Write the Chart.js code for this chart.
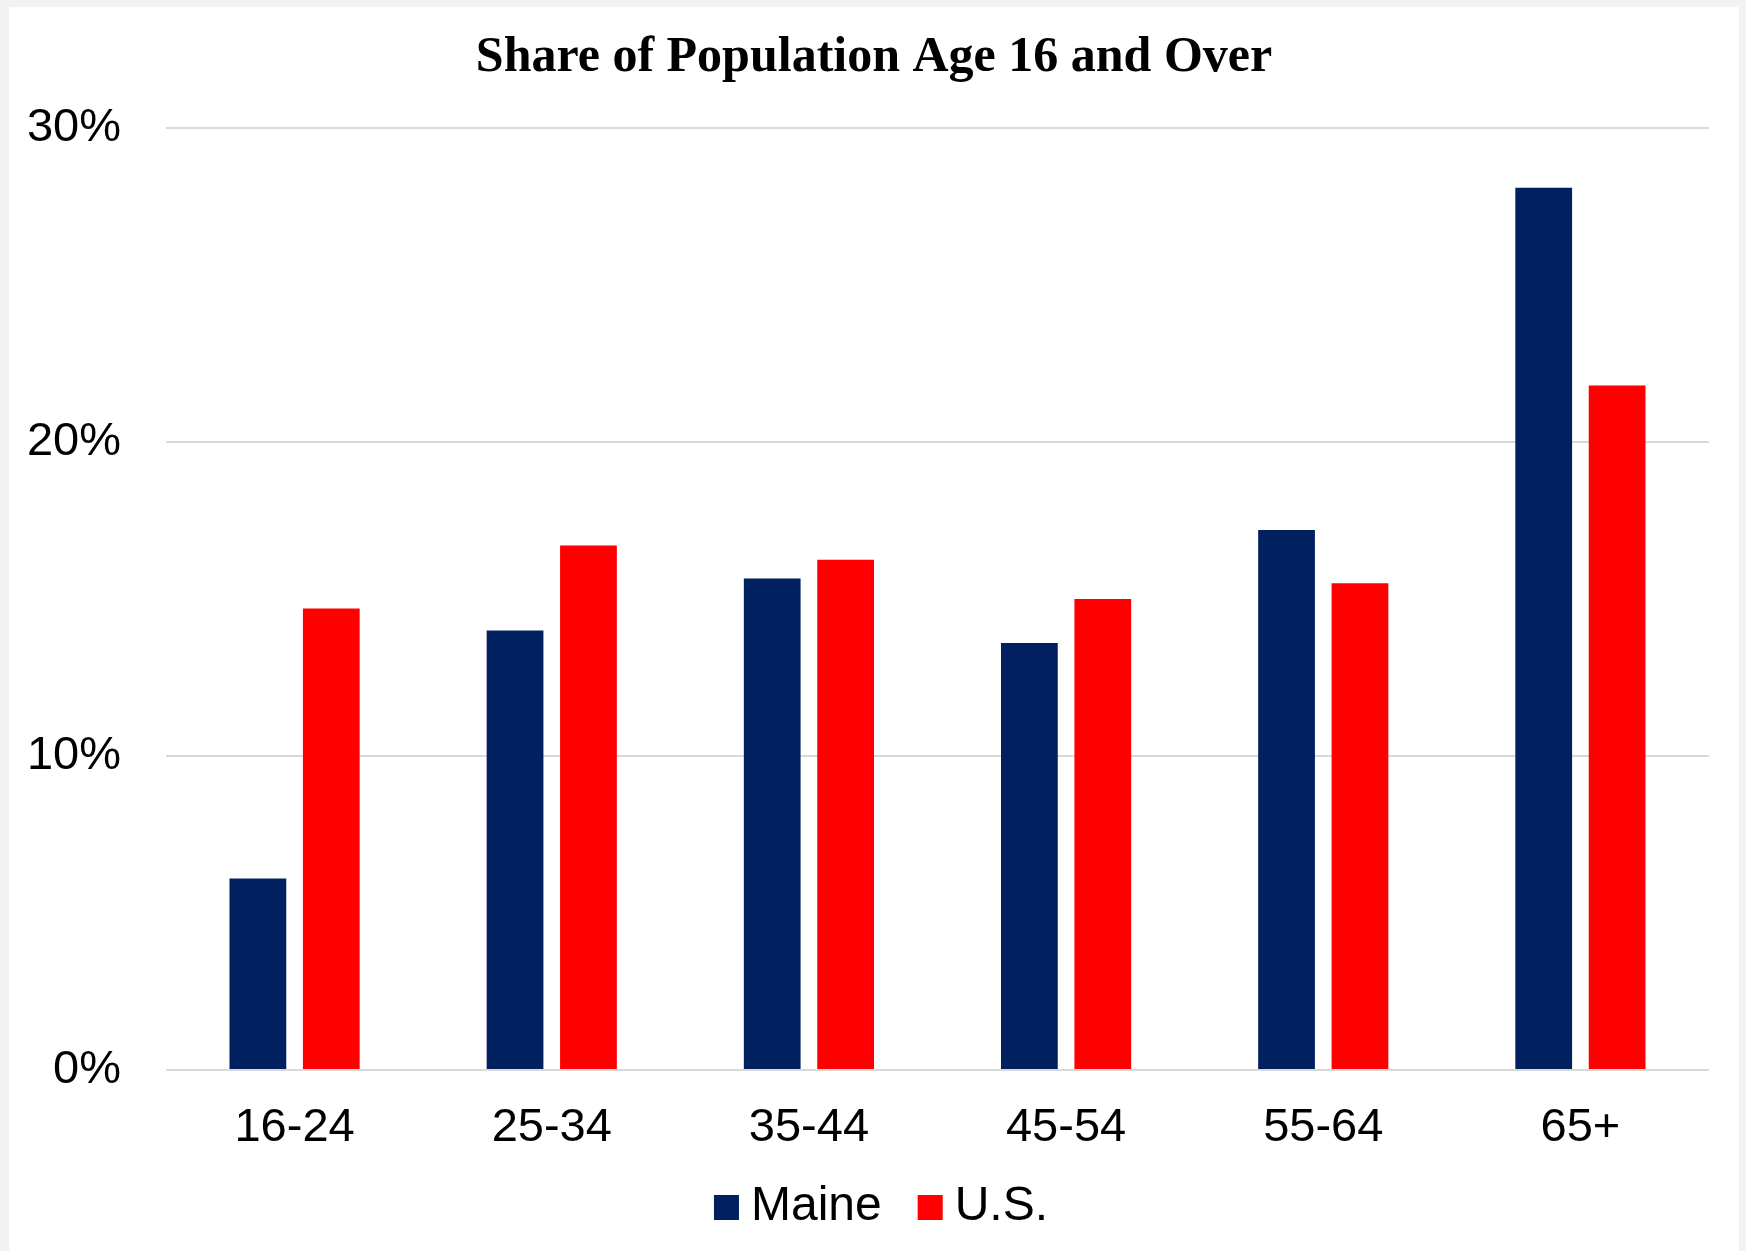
<!DOCTYPE html>
<html>
<head>
<meta charset="utf-8">
<script src="https://cdn.jsdelivr.net/npm/chart.js@4/dist/chart.umd.min.js"></script>
<style>
  html, body { margin: 0; padding: 0; background: #f2f2f2; width: 1746px; height: 1251px; overflow: hidden; }
  #frame { position: absolute; left: 9px; top: 7px; width: 1730px; height: 1244px; background: #ffffff; }
  canvas { display: block; }
</style>
</head>
<body>
<div id="frame"><canvas id="c"></canvas></div>
<script>
const categories = ["16-24", "25-34", "35-44", "45-54", "55-64", "65+"];
const maineValues = [6.1, 14.0, 15.65, 13.6, 17.2, 28.1];
const usValues = [14.7, 16.7, 16.25, 15.0, 15.5, 21.8];
const yTicks = [0, 10, 20, 30];
const titleText = "Share of Population Age 16 and Over";
const seriesNames = ["Maine", "U.S."];
const seriesColors = ["#002060", "#ff0000"];

Chart.defaults.font.family = "'Liberation Sans', Arial, sans-serif";
Chart.defaults.color = "#000000";

// Legend drawn beneath the axis (Excel-style spacing: small box-to-text gap)
const bottomLegend = {
  id: 'bottomLegend',
  afterDraw(chart) {
    const ctx = chart.ctx;
    ctx.save();
    ctx.font = "48px 'Liberation Sans', Arial, sans-serif";
    ctx.textBaseline = 'middle';
    ctx.textAlign = 'left';
    const box = 25, gapText = 12, gapItem = 36;
    const items = chart.data.datasets.map(d => ({ label: d.label, color: d.backgroundColor, w: ctx.measureText(d.label).width }));
    const total = items.reduce((s, it, i) => s + box + gapText + it.w + (i ? gapItem : 0), 0);
    let x = chart.width / 2 + 7 - total / 2;
    const cy = chart.chartArea.bottom + 137.5;
    items.forEach((it) => {
      ctx.fillStyle = it.color;
      ctx.fillRect(x, cy - box / 2, box, box);
      ctx.fillStyle = '#000000';
      ctx.fillText(it.label, x + box + gapText, cy - 0.5);
      x += box + gapText + it.w + gapItem;
    });
    ctx.restore();
  }
};

new Chart(document.getElementById('c'), {
  type: 'bar',
  data: {
    labels: categories,
    datasets: [
      { label: seriesNames[0], data: maineValues, backgroundColor: seriesColors[0], borderWidth: 0 },
      { label: seriesNames[1], data: usValues, backgroundColor: seriesColors[1], borderWidth: 0 }
    ]
  },
  options: {
    responsive: true,
    maintainAspectRatio: false,
    animation: false,
    categoryPercentage: 0.571,
    barPercentage: 0.773,
    layout: { padding: { left: 0, right: 0, top: 0, bottom: 92 } },
    plugins: {
      title: {
        display: true,
        text: titleText,
        font: { family: "'Liberation Serif', 'Times New Roman', serif", size: 50, weight: 'bold' },
        color: '#000000',
        padding: { top: 21, bottom: 40 }
      },
      legend: { display: false },
      tooltip: { enabled: false }
    },
    scales: {
      x: {
        grid: { display: false, drawTicks: false },
        border: { display: false },
        afterFit: (s) => { s.height = 89; },
        ticks: { font: { size: 47 }, color: '#000000', padding: 30 }
      },
      y: {
        min: yTicks[0],
        max: yTicks[yTicks.length - 1],
        afterFit: (s) => { s.width = 157; },
        afterBuildTicks: (s) => { s.ticks = yTicks.map(v => ({ value: v })); },
        grid: { color: '#d9d9d9', lineWidth: 2, drawTicks: false },
        border: { display: false },
        ticks: {
          font: { size: 47 },
          color: '#000000',
          padding: 45,
          callback: (v) => v + '%'
        }
      },
      yRight: {
        position: 'right',
        min: 0,
        max: 30,
        grid: { display: false, drawTicks: false },
        border: { display: false },
        ticks: { display: false },
        afterFit: (s) => { s.width = 30; }
      }
    }
  },
  plugins: [bottomLegend]
});
</script>
</body>
</html>
